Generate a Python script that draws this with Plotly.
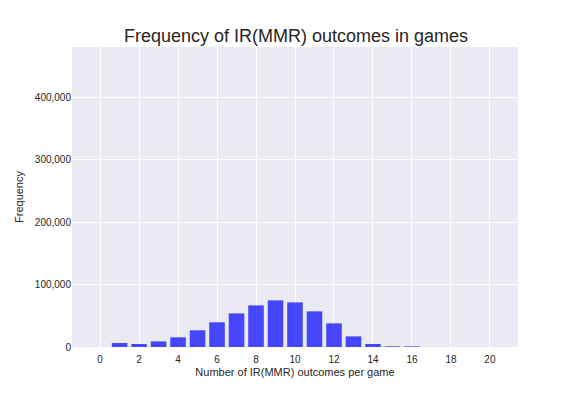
import plotly.graph_objects as go

outcomes = list(range(0, 21))
frequency = [0, 6400, 4800, 9000, 15500, 26700, 39500, 53800, 66600, 74600,
             71400, 57000, 37800, 17000, 4800, 1100, 1000, 0, 0, 0, 0]
x_ticks = [0, 2, 4, 6, 8, 10, 12, 14, 16, 18, 20]
y_ticks = [0, 100000, 200000, 300000, 400000]

fig = go.Figure(go.Bar(
    x=outcomes, y=frequency, width=0.8,
    marker=dict(color="rgba(0,0,255,0.7)", line=dict(width=0)),
))

fig.update_layout(
    width=576, height=396,
    margin=dict(l=64, r=66, t=39, b=57),
    paper_bgcolor="white", plot_bgcolor="#EAEAF2",
    font=dict(family="Liberation Sans, Arial, sans-serif", color="#262626", size=10),
    title=dict(text="Frequency of IR(MMR) outcomes in games", x=0.5, xanchor="center",
               y=0.93, yanchor="middle", font=dict(size=18, color="#262626")),
    showlegend=False,
    xaxis=dict(range=[-1.44, 21.44], tickvals=x_ticks, showgrid=True, gridcolor="white",
               gridwidth=1, zeroline=False, showline=False,
               ticks="outside", ticklen=3, tickcolor="rgba(0,0,0,0)",
               title=dict(text="Number of IR(MMR) outcomes per game", font=dict(size=11), standoff=4)),
    yaxis=dict(range=[0, 480000], tickvals=y_ticks, tickformat=",d", showgrid=True,
               gridcolor="white", gridwidth=1, zeroline=False, showline=False, ticks="",
               title=dict(text="Frequency", font=dict(size=11), standoff=8)),
)

fig.write_html("out.html")
